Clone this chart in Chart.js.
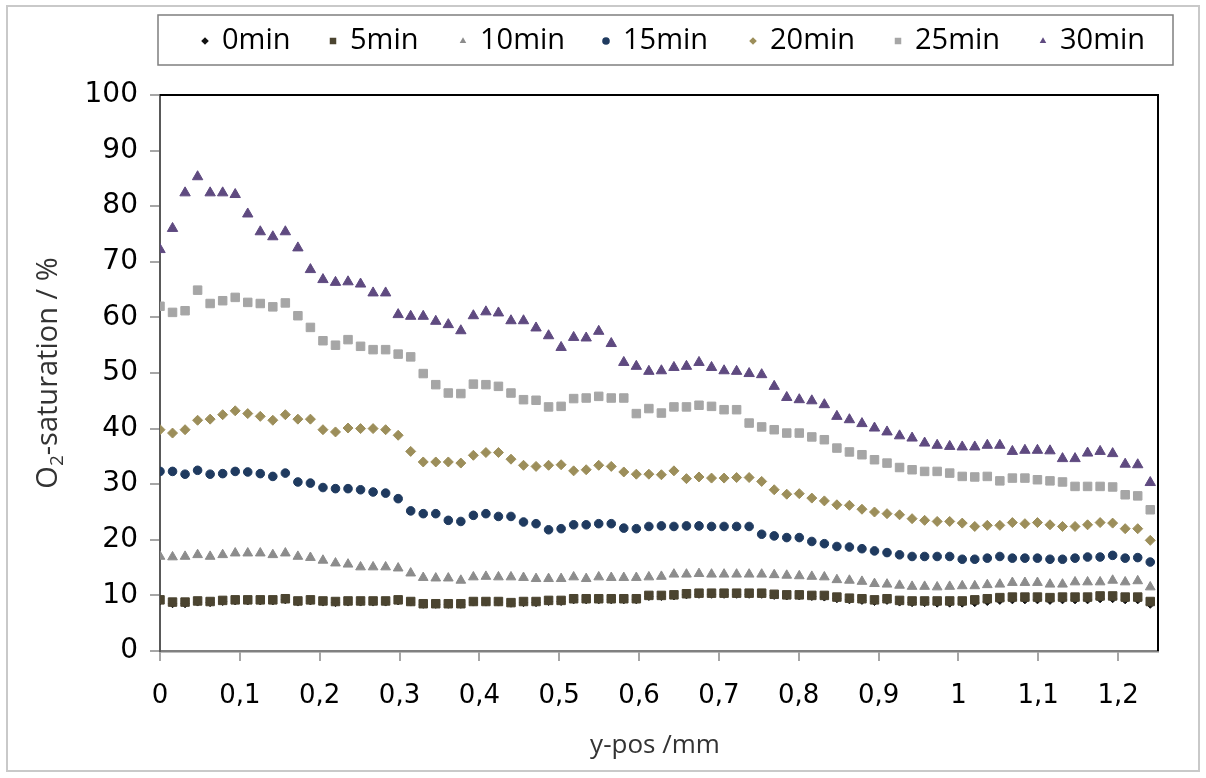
<!DOCTYPE html>
<html>
<head>
<meta charset="utf-8">
<script src="https://cdn.jsdelivr.net/npm/chart.js@4.4.1/dist/chart.umd.min.js"></script>
<style>
  html, body { margin: 0; padding: 0; background: #fff; }
  #wrap { width: 1206px; height: 778px; position: relative; }
</style>
</head>
<body>
<div id="wrap"><canvas id="o2Chart"></canvas></div>
<script>
// --- data ---
const seriesNames = ['0min', '5min', '10min', '15min', '20min', '25min', '30min'];

const yPos = [
  0, 0.0157, 0.0314, 0.0471, 0.0628, 0.0785, 0.0942, 0.1099, 0.1256, 0.1413,
  0.157, 0.1727, 0.1884, 0.2041, 0.2198, 0.2355, 0.2512, 0.2669, 0.2826, 0.2983,
  0.314, 0.3297, 0.3454, 0.3611, 0.3768, 0.3925, 0.4082, 0.4239, 0.4396, 0.4553,
  0.471, 0.4867, 0.5024, 0.5181, 0.5338, 0.5495, 0.5652, 0.5809, 0.5966, 0.6123,
  0.628, 0.6437, 0.6594, 0.6751, 0.6908, 0.7065, 0.7222, 0.7379, 0.7536, 0.7693,
  0.785, 0.8007, 0.8164, 0.8321, 0.8478, 0.8635, 0.8792, 0.8949, 0.9106, 0.9263,
  0.942, 0.9577, 0.9734, 0.9891, 1.0048, 1.0205, 1.0362, 1.0519, 1.0676, 1.0833,
  1.099, 1.1147, 1.1304, 1.1461, 1.1618, 1.1775, 1.1932, 1.2089, 1.2246, 1.2403
];

const sat0 = [
  9.0, 8.5, 8.5, 8.8, 8.7, 8.9, 9.0, 9.0, 9.0, 9.0, 9.2, 8.8, 9.0, 8.8, 8.7, 8.8,
  8.8, 8.8, 8.8, 9.0, 8.8, 8.4, 8.4, 8.4, 8.4, 8.8, 8.8, 8.8, 8.6, 8.7, 8.7,
  8.9, 8.9, 9.2, 9.2, 9.2, 9.2, 9.2, 9.2, 9.8, 9.8, 9.9, 10.1, 10.2, 10.2, 10.2,
  10.2, 10.2, 10.2, 10.0, 9.9, 9.9, 9.8, 9.7, 9.4, 9.2, 9.1, 8.9, 9.1, 8.8, 8.7,
  8.7, 8.6, 8.6, 8.6, 8.7, 8.9, 9.1, 9.2, 9.2, 9.2, 9.1, 9.2, 9.2, 9.2, 9.4,
  9.4, 9.2, 9.2, 8.4
];
const sat5 = [
  9.2, 8.8, 8.8, 9.0, 8.9, 9.1, 9.2, 9.2, 9.2, 9.2, 9.4, 9.0, 9.2, 9.0, 8.9, 9.0,
  9.0, 9.0, 9.0, 9.2, 8.9, 8.5, 8.5, 8.5, 8.5, 8.9, 8.9, 8.9, 8.7, 8.9, 8.9,
  9.1, 9.1, 9.4, 9.4, 9.4, 9.4, 9.4, 9.4, 10.0, 10.0, 10.1, 10.3, 10.4, 10.4, 10.4,
  10.4, 10.4, 10.4, 10.2, 10.1, 10.1, 10.0, 10.0, 9.7, 9.5, 9.4, 9.2, 9.4, 9.1, 9.0,
  9.0, 9.0, 9.0, 9.0, 9.2, 9.4, 9.6, 9.7, 9.7, 9.7, 9.6, 9.7, 9.7, 9.7, 9.9,
  9.9, 9.7, 9.7, 8.9
];
const sat10 = [
  17.0, 16.9, 17.0, 17.3, 17.0, 17.3, 17.6, 17.6, 17.6, 17.3, 17.6, 17.0, 16.8, 16.3, 15.8, 15.6,
  15.1, 15.1, 15.1, 14.9, 14.0, 13.2, 13.1, 13.1, 12.7, 13.3, 13.4, 13.3, 13.3, 13.2, 13.0,
  13.0, 13.0, 13.3, 13.0, 13.3, 13.2, 13.2, 13.2, 13.3, 13.4, 13.8, 13.8, 13.9, 13.8, 13.8,
  13.8, 13.8, 13.8, 13.7, 13.6, 13.5, 13.4, 13.3, 12.8, 12.7, 12.5, 12.1, 12.0, 11.8, 11.6,
  11.6, 11.5, 11.6, 11.7, 11.7, 11.9, 12.0, 12.3, 12.3, 12.3, 12.0, 12.0, 12.4, 12.4, 12.4,
  12.7, 12.4, 12.6, 11.5
];
const sat15 = [
  32.3, 32.3, 31.8, 32.5, 31.8, 31.9, 32.3, 32.2, 31.9, 31.4, 32.0, 30.4, 30.2, 29.4, 29.2, 29.2,
  29.0, 28.6, 28.4, 27.4, 25.2, 24.7, 24.7, 23.5, 23.3, 24.4, 24.7, 24.2, 24.2, 23.2, 22.9,
  21.8, 22.0, 22.7, 22.7, 22.9, 22.9, 22.1, 22.0, 22.4, 22.5, 22.4, 22.5, 22.5, 22.4, 22.4,
  22.4, 22.4, 21.0, 20.7, 20.4, 20.4, 19.7, 19.3, 18.8, 18.7, 18.4, 18.0, 17.7, 17.3, 17.0,
  17.0, 17.0, 17.0, 16.5, 16.5, 16.7, 17.0, 16.7, 16.7, 16.7, 16.5, 16.5, 16.7, 16.9, 16.9,
  17.2, 16.7, 16.8, 16.0
];
const sat20 = [
  39.8, 39.2, 39.8, 41.5, 41.7, 42.5, 43.2, 42.7, 42.2, 41.5, 42.5, 41.7, 41.7, 39.8, 39.4, 40.1,
  40.0, 40.0, 39.8, 38.8, 35.9, 34.0, 34.0, 34.0, 33.8, 35.2, 35.7, 35.7, 34.5, 33.4, 33.2,
  33.4, 33.5, 32.4, 32.6, 33.4, 33.2, 32.2, 31.8, 31.8, 31.7, 32.4, 31.0, 31.3, 31.1, 31.1,
  31.2, 31.2, 30.5, 29.0, 28.2, 28.3, 27.5, 27.0, 26.3, 26.2, 25.5, 25.0, 24.7, 24.5, 23.8,
  23.5, 23.3, 23.3, 23.0, 22.4, 22.6, 22.6, 23.1, 22.9, 23.1, 22.7, 22.4, 22.4, 22.7, 23.1,
  23.0, 22.0, 22.0, 19.9
];
const sat25 = [
  62.0, 60.9, 61.2, 64.9, 62.5, 63.0, 63.6, 62.7, 62.5, 61.9, 62.6, 60.3, 58.2, 55.8, 55.0, 56.0,
  54.8, 54.2, 54.2, 53.4, 52.9, 49.9, 47.9, 46.4, 46.3, 48.0, 47.9, 47.6, 46.4, 45.2, 45.1,
  43.9, 44.0, 45.4, 45.5, 45.8, 45.5, 45.5, 42.7, 43.6, 42.8, 43.9, 43.9, 44.2, 44.0, 43.4,
  43.4, 41.0, 40.3, 39.8, 39.2, 39.2, 38.5, 38.0, 36.5, 35.8, 35.3, 34.4, 33.8, 33.0, 32.6,
  32.3, 32.3, 32.0, 31.4, 31.3, 31.4, 30.6, 31.1, 31.1, 30.8, 30.6, 30.4, 29.6, 29.6, 29.6,
  29.5, 28.1, 27.9, 25.4
];
const sat30 = [
  72.2, 76.0, 82.4, 85.3, 82.4, 82.4, 82.1, 78.6, 75.4, 74.5, 75.4, 72.5, 68.6, 66.8, 66.3, 66.4,
  66.0, 64.4, 64.4, 60.5, 60.2, 60.2, 59.3, 58.7, 57.6, 60.3, 61.0, 60.8, 59.4, 59.4, 58.1,
  56.7, 54.6, 56.4, 56.3, 57.5, 55.3, 51.9, 51.2, 50.3, 50.4, 51.0, 51.2, 51.9, 51.0, 50.4,
  50.3, 49.9, 49.7, 47.6, 45.6, 45.2, 45.0, 44.3, 42.2, 41.6, 40.9, 40.1, 39.4, 38.7, 38.3,
  37.4, 37.0, 36.8, 36.7, 36.7, 37.0, 37.0, 35.9, 36.1, 36.1, 36.0, 34.6, 34.6, 35.6, 35.9,
  35.5, 33.6, 33.5, 30.3
];

const yTicks = [0, 10, 20, 30, 40, 50, 60, 70, 80, 90, 100];

// --- marker styles per series ---
const styles = [
  { color: '#111111', shape: 'rectRot', r: 4.0 },
  { color: '#4b4430', shape: 'rect', r: 6.0 },
  { color: '#8c8c8c', shape: 'triangle', r: 5.6 },
  { color: '#1f3a5f', shape: 'circle', r: 4.3 },
  { color: '#9c8e5a', shape: 'rectRot', r: 5.0 },
  { color: '#a6a6a6', shape: 'rect', r: 6.0 },
  { color: '#5f4a80', shape: 'triangle', r: 6.0 }
];

const allSeries = [sat0, sat5, sat10, sat15, sat20, sat25, sat30];

const datasets = allSeries.map((vals, i) => ({
  label: seriesNames[i],
  data: vals.map((v, k) => ({ x: yPos[k], y: v })),
  pointStyle: styles[i].shape,
  pointRadius: styles[i].r,
  pointBackgroundColor: styles[i].color,
  pointBorderColor: styles[i].color,
  pointBorderWidth: 1,
  showLine: false,
  order: allSeries.length - i   // later series on top, like Excel
}));

function fmtComma(v) {
  return String(Number(v.toFixed(1))).replace('.', ',');
}

function marker(ctx, shape, x, y, r, color) {
  ctx.fillStyle = color;
  ctx.beginPath();
  if (shape === 'circle') {
    ctx.arc(x, y, r, 0, Math.PI * 2);
  } else if (shape === 'rect') {
    const s = r * Math.SQRT1_2;
    ctx.rect(x - s, y - s, 2 * s, 2 * s);
  } else if (shape === 'rectRot') {
    ctx.moveTo(x, y - r); ctx.lineTo(x + r, y); ctx.lineTo(x, y + r); ctx.lineTo(x - r, y);
  } else {
    ctx.moveTo(x, y - r);
    ctx.lineTo(x + r * 0.866, y + r * 0.5);
    ctx.lineTo(x - r * 0.866, y + r * 0.5);
  }
  ctx.closePath();
  ctx.fill();
}

// frame, legend box and axis titles
const decor = {
  id: 'decor',
  afterDraw(chart) {
    const { ctx, chartArea: a } = chart;
    ctx.save();

    // outer chart border
    ctx.strokeStyle = '#c9c9c9';
    ctx.lineWidth = 2;
    ctx.strokeRect(7, 6, 1192, 765);

    // plot area border (top + right)
    ctx.strokeStyle = '#000';
    ctx.lineWidth = 2;
    ctx.beginPath();
    ctx.moveTo(a.left, a.top);
    ctx.lineTo(a.right, a.top);
    ctx.lineTo(a.right, a.bottom);
    ctx.stroke();

    // legend
    ctx.strokeStyle = '#7f7f7f';
    ctx.lineWidth = 1.5;
    ctx.strokeRect(158, 15, 1015, 50);
    const mx = [205, 333, 463, 606, 753, 898, 1043];
    ctx.font = '29px "Open Sans"';
    ctx.textBaseline = 'middle';
    ctx.textAlign = 'left';
    seriesNames.forEach((name, i) => {
      const st = styles[i];
      marker(ctx, st.shape, mx[i], 41, st.shape === 'rect' ? 4.6 : 3.8, st.color);
      ctx.fillStyle = '#000';
      ctx.fillText(name, mx[i] + 17, 41);
    });

    // x title
    ctx.fillStyle = '#333';
    ctx.font = '26px "Open Sans"';
    ctx.textAlign = 'center';
    ctx.fillText('y-pos /mm', 655, 746);

    // y title with subscript 2
    ctx.translate(47, (a.top + a.bottom) / 2);
    ctx.rotate(-Math.PI / 2);
    ctx.textAlign = 'left';
    ctx.textBaseline = 'alphabetic';
    const big = '29px "Open Sans"', small = '19px "Open Sans"';
    ctx.font = big;
    const wO = ctx.measureText('O').width;
    const wRest = ctx.measureText('-saturation / %').width;
    ctx.font = small;
    const w2 = ctx.measureText('2').width;
    let x0 = -(wO + w2 + wRest) / 2;
    ctx.font = big;
    ctx.fillText('O', x0, 10);
    ctx.font = small;
    ctx.fillText('2', x0 + wO, 16);
    ctx.font = big;
    ctx.fillText('-saturation / %', x0 + wO + w2, 10);

    ctx.restore();
  }
};

new Chart(document.getElementById('o2Chart'), {
  type: 'scatter',
  data: { datasets },
  options: {
    responsive: true,
    maintainAspectRatio: false,
    animation: false,
    events: [],
    layout: { padding: { top: 95, right: 48, bottom: 0, left: 0 } },
    plugins: {
      legend: { display: false },
      tooltip: { enabled: false }
    },
    scales: {
      x: {
        type: 'linear',
        min: 0,
        max: 1.25,
        border: { color: '#808080', width: 2.5 },
        grid: { drawOnChartArea: false, drawTicks: true, tickLength: 10, color: '#a6a6a6', lineWidth: 2 },
        ticks: {
          stepSize: 0.1,
          includeBounds: false,
          autoSkip: false,
          maxRotation: 0,
          padding: 20,
          color: '#000',
          font: { family: 'DejaVu Sans', size: 26 },
          callback: v => fmtComma(v)
        },
        afterFit: s => { s.height = 127; }
      },
      y: {
        min: yTicks[0],
        max: yTicks[yTicks.length - 1],
        border: { color: '#595959', width: 2 },
        grid: { drawOnChartArea: false, drawTicks: true, tickLength: 10, color: '#a6a6a6', lineWidth: 2 },
        ticks: {
          stepSize: 10,
          padding: 12,
          color: '#000',
          font: { family: 'DejaVu Sans', size: 28 }
        },
        afterFit: s => { s.width = 160; }
      }
    }
  },
  plugins: [decor]
});
</script>
</body>
</html>
